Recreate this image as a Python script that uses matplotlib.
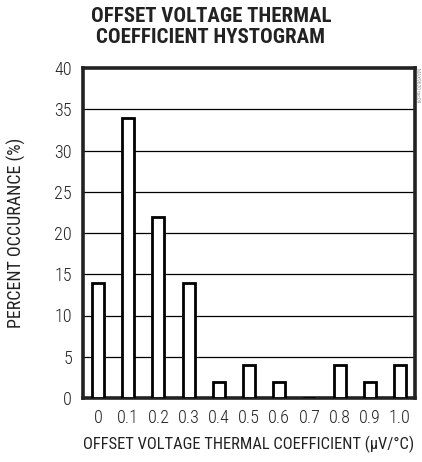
import matplotlib as mpl
mpl.use("Agg")
import matplotlib.pyplot as plt

coef = [0.0, 0.1, 0.2, 0.3, 0.4, 0.5, 0.6, 0.7, 0.8, 0.9, 1.0]
coef_labels = ["0", "0.1", "0.2", "0.3", "0.4", "0.5", "0.6", "0.7", "0.8", "0.9", "1.0"]
percent = [14, 34, 22, 14, 2, 4, 2, 0, 4, 2, 4]
yticks = [0, 5, 10, 15, 20, 25, 30, 35, 40]

plt.rcParams["font.family"] = ["Roboto Condensed", "DejaVu Sans"]
plt.rcParams["font.weight"] = 300
INK = "#222222"

fig = plt.figure(figsize=(4.22, 4.62), dpi=100)
ax = fig.add_axes([83 / 422, 1 - 398 / 462, 332 / 422, 330 / 462])

ax.bar(coef, percent, width=0.04, color="white", edgecolor="black",
       linewidth=2.0, zorder=3)
for y in yticks[1:-1]:
    ax.axhline(y, color="black", lw=0.9, zorder=1)

ax.set_xlim(-0.05, 1.05)
ax.set_ylim(0, 40)
ax.set_xticks(coef)
ax.set_xticklabels(coef_labels)
ax.set_yticks(yticks)
ax.tick_params(length=0, labelsize=13, pad=8, colors=INK)
for s in ax.spines.values():
    s.set_linewidth(2.6)
    s.set_color(INK)

ax.set_xlabel("OFFSET VOLTAGE THERMAL COEFFICIENT (µV/°C)", fontsize=11.9,
              labelpad=6, color=INK)
ax.set_ylabel("PERCENT OCCURANCE (%)", fontsize=13, labelpad=20, color=INK)

fig.text(0.5, 1 - 27 / 462, "OFFSET VOLTAGE THERMAL\nCOEFFICIENT HYSTOGRAM",
         ha="center", va="center", fontsize=15, fontweight="bold",
         linespacing=1.15, color=INK)
fig.text(418 / 422, 1 - 85 / 462, "MAX9620 toc09", rotation=270, ha="center",
         va="center", fontsize=4, color="#555555")

fig.savefig("out.png", dpi=100, facecolor="white")
